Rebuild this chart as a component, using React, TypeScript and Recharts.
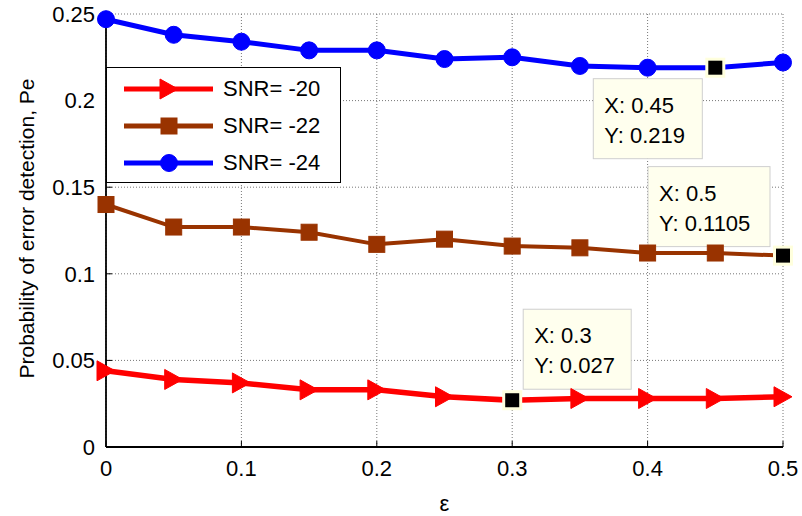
import React from 'react';
import { LineChart, Line, XAxis, YAxis, CartesianGrid, Legend, ReferenceDot, Label } from 'recharts';

// epsilon on the x axis, one Pe series per SNR
const epsilon = [0, 0.05, 0.1, 0.15, 0.2, 0.25, 0.3, 0.35, 0.4, 0.45, 0.5];
const snr20 = [0.044, 0.039, 0.037, 0.033, 0.033, 0.029, 0.027, 0.028, 0.028, 0.028, 0.029];
const snr22 = [0.14, 0.127, 0.127, 0.124, 0.117, 0.12, 0.116, 0.115, 0.112, 0.112, 0.1105];
const snr24 = [0.247, 0.238, 0.234, 0.229, 0.229, 0.224, 0.225, 0.22, 0.219, 0.219, 0.222];

const seriesNames = ['SNR= -20', 'SNR= -22', 'SNR= -24'];
const xTicks = [0, 0.1, 0.2, 0.3, 0.4, 0.5];
const yTicks = [0, 0.05, 0.1, 0.15, 0.2, 0.25];

// data cursors shown on the figure
const tipX = [0.45, 0.5, 0.3];
const tipY = [0.219, 0.1105, 0.027];
const tipText = [['X: 0.45', 'Y: 0.219'], ['X: 0.5', 'Y: 0.1105'], ['X: 0.3', 'Y: 0.027']];

const data = epsilon.map((e, i) => ({ eps: e, snr20: snr20[i], snr22: snr22[i], snr24: snr24[i] }));

const FONT = '"Liberation Sans", Arial, sans-serif';
const RED = '#ff0000';
const BROWN = '#993300';
const BLUE = '#0000ff';

const fmt = (v: number) => String(Number(v.toFixed(3)));

const isTip = (x: number, y: number) => tipX.some((tx, i) => Math.abs(tx - x) < 1e-9 && Math.abs(tipY[i] - y) < 1e-9);

const Tri = ({ cx, cy }: any) => (
  <path d={`M${cx - 9},${cy - 10}L${cx + 9},${cy}L${cx - 9},${cy + 10}Z`} fill={RED} stroke={RED} strokeWidth={1} />
);
const Sq = ({ cx, cy }: any) => (
  <rect x={cx - 8} y={cy - 8} width={16} height={16} fill={BROWN} stroke={BROWN} strokeWidth={1} />
);
const Circ = ({ cx, cy }: any) => <circle cx={cx} cy={cy} r={8.5} fill={BLUE} stroke={BLUE} />;
const Cursor = ({ cx, cy }: any) => (
  <rect x={cx - 8.5} y={cy - 8.5} width={17} height={17} fill="#000" stroke="#ffffdd" strokeWidth={3} />
);

// a point picked by a data cursor is drawn as the black cursor square
const dotWith = (M: any, tag: string) => (p: any) =>
  isTip(p.payload.eps, p.value) ? (
    <Cursor key={`${tag}${p.index}`} cx={p.cx} cy={p.cy} />
  ) : (
    <M key={`${tag}${p.index}`} cx={p.cx} cy={p.cy} />
  );

// box placement relative to the cursor point: [dx of box left, dy of box top, width]
const tipBox = [
  [-122, 11, 109],
  [-135, -89, 122],
  [11, -91, 108],
];

const DataTip = ({ cx, cy, idx }: any) => {
  const [dx, dy, w] = tipBox[idx];
  const bx = cx + dx;
  const by = cy + dy;
  return (
    <g>
      <rect x={bx} y={by} width={w} height={80} fill="#ffffee" stroke="#cfcfcf" strokeWidth={1} />
      <text x={bx + 11} y={by + 34} fontSize={22} fontFamily={FONT} fill="#000">{tipText[idx][0]}</text>
      <text x={bx + 11} y={by + 64} fontSize={22} fontFamily={FONT} fill="#000">{tipText[idx][1]}</text>
    </g>
  );
};

const markers = [Tri, Sq, Circ];
const colors = [RED, BROWN, BLUE];

const LegendBox = () => (
  <div style={{ width: 233, height: 114, border: '1px solid #000', background: '#fff', fontFamily: FONT, fontSize: 22 }}>
    {seriesNames.map((name, i) => {
      const M = markers[i];
      return (
        <div key={name} style={{ display: 'flex', alignItems: 'center', height: 37, marginTop: i === 0 ? 2 : 0 }}>
          <svg width={116} height={30}>
            <line x1={17} x2={106} y1={15} y2={15} stroke={colors[i]} strokeWidth={5} />
            <M cx={62} cy={15} />
          </svg>
          <span>{name}</span>
        </div>
      );
    })}
  </div>
);

const YLabel = ({ viewBox }: any) => {
  const cy = viewBox.y + viewBox.height / 2 - 2;
  return (
    <text transform={`translate(26,${cy}) rotate(-90)`} textAnchor="middle" dominantBaseline="central" fontSize={21} fontFamily={FONT} fill="#000">
      Probability of error detection, Pe
    </text>
  );
};

export default function App() {
  const axisLine = { stroke: '#000', strokeWidth: 1.8 };
  const tickLine = { stroke: '#000', strokeWidth: 1 };
  const tickFont = { fill: '#000', fontSize: 22, fontFamily: FONT };
  return (
    <div style={{ position: 'absolute', left: 0, top: 0, background: '#fff' }}>
      <LineChart width={802} height={516} data={data} margin={{ top: 14, right: 19, left: 0, bottom: 0 }}>
        <CartesianGrid stroke="#777" strokeDasharray="1 2" strokeWidth={1} />
        <XAxis
          dataKey="eps"
          type="number"
          domain={[0, 0.5]}
          ticks={xTicks}
          tickFormatter={fmt}
          height={69}
          tickSize={-6}
          tickMargin={19}
          axisLine={axisLine}
          tickLine={tickLine}
          tick={tickFont}
        >
          <Label value="ε" position="insideBottom" offset={5} fontSize={22} fontFamily={FONT} fill="#000" />
        </XAxis>
        <XAxis xAxisId="top" orientation="top" type="number" domain={[0, 0.5]} ticks={xTicks} height={0} tickSize={-6} tick={false} axisLine={axisLine} tickLine={tickLine} />
        <YAxis
          type="number"
          domain={[0, 0.25]}
          ticks={yTicks}
          tickFormatter={fmt}
          width={106}
          tickSize={-6}
          tickMargin={17}
          axisLine={axisLine}
          tickLine={tickLine}
          tick={tickFont}
        >
          <Label content={<YLabel />} />
        </YAxis>
        <YAxis yAxisId="right" orientation="right" type="number" domain={[0, 0.25]} ticks={yTicks} width={0} tickSize={-6} tick={false} axisLine={axisLine} tickLine={tickLine} />
        {tipX.map((x, i) => (
          <ReferenceDot key={i} x={x} y={tipY[i]} r={8} ifOverflow="visible" shape={(p: any) => <DataTip cx={p.cx} cy={p.cy} idx={i} />} />
        ))}
        <Line dataKey="snr24" name={seriesNames[2]} stroke={BLUE} strokeWidth={5} dot={dotWith(Circ, 'c')} isAnimationActive={false} />
        <Line dataKey="snr22" name={seriesNames[1]} stroke={BROWN} strokeWidth={4} dot={dotWith(Sq, 's')} isAnimationActive={false} />
        <Line dataKey="snr20" name={seriesNames[0]} stroke={RED} strokeWidth={5.5} dot={dotWith(Tri, 't')} isAnimationActive={false} />
        <Legend
          layout="vertical"
          align="center"
          verticalAlign="middle"
          content={<LegendBox />}
          wrapperStyle={{ left: 106, top: 67, width: 235, height: 116 }}
        />
      </LineChart>
    </div>
  );
}
